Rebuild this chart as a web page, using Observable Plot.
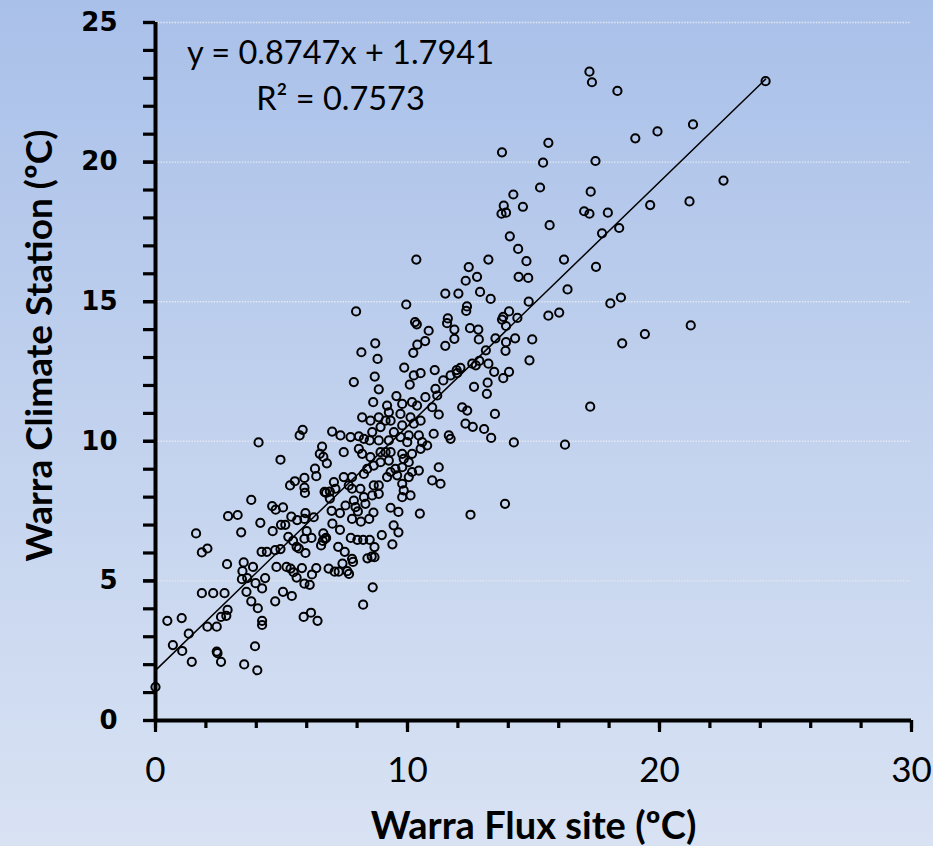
<!DOCTYPE html>
<html>
<head>
<meta charset="utf-8">
<script src="https://cdn.jsdelivr.net/npm/d3@7"></script>
<script src="https://cdn.jsdelivr.net/npm/@observablehq/plot@0.6"></script>
<style>
  html, body { margin: 0; padding: 0; }
  body {
    width: 933px; height: 846px; overflow: hidden;
    background: linear-gradient(to bottom, #a9c0e9 0%, #c2d2ee 50%, #d8e2f3 100%);
  }
  #chart svg { display: block; }
</style>
</head>
<body>
<div id="chart"></div>
<script>
// Daily mean air temperature (°C): Warra Flux site (x) vs Warra Climate Station (y)
const fluxSite = [
  17.22,17.32,18.33,24.21,21.33,19.92,19.04,15.59,13.75,15.38,
  17.46,22.54,15.26,17.27,14.20,13.82,14.58,13.73,13.91,19.63,
  17.01,17.22,17.95,21.19,15.64,18.40,17.72,14.06,14.39,17.48,
  10.35,14.72,16.21,13.21,12.43,14.41,14.79,12.76,12.31,16.35,
  12.88,11.50,12.02,13.30,14.81,18.47,18.05,9.95,12.36,12.33,
  7.96,14.03,16.02,15.59,13.80,11.60,11.57,14.36,10.30,10.37,
  13.75,13.91,12.48,12.81,11.86,21.24,19.42,10.84,8.72,10.70,
  10.39,11.86,11.50,13.49,13.91,14.27,14.95,18.52,12.83,13.89,
  8.17,10.23,13.11,8.81,14.84,12.57,12.71,13.21,12.85,12.10,
  11.95,9.87,11.08,14.03,13.44,13.80,13.18,12.64,13.15,13.47,
  12.59,13.04,13.32,5.84,5.72,14.22,16.25,4.09,6.61,6.66,
  6.52,6.80,6.33,4.96,6.38,5.91,5.53,5.34,5.91,5.93,
  6.71,6.77,6.92,8.03,8.65,9.64,6.99,6.92,3.80,4.63,
  4.77,5.06,6.28,5.95,5.91,5.62,5.39,4.98,5.15,4.16,
  2.88,3.26,10.49,12.50,13.87,7.32,7.80,8.15,8.48,7.02,
  7.32,6.66,6.73,6.64,6.77,6.57,6.00,6.19,5.91,5.27,
  5.46,5.60,5.69,5.95,4.65,3.40,1.61,7.75,8.01,8.24,
  8.50,8.98,9.64,9.45,9.40,7.25,7.51,7.80,8.41,8.58,
  8.69,4.21,4.42,4.75,4.96,1.84,2.06,2.84,3.50,3.87,
  3.45,3.43,3.64,4.35,4.80,5.20,5.36,5.48,5.60,5.81,
  6.38,6.21,6.87,7.11,7.27,7.42,7.61,7.68,7.84,5.91,
  6.12,3.97,4.23,3.61,1.84,2.29,2.74,5.06,5.41,4.75,
  3.80,4.06,2.86,2.81,2.60,8.62,8.24,4.23,4.23,6.17,
  5.88,6.43,0.47,1.04,1.32,2.06,2.43,0.69,1.06,1.44,
  2.43,2.46,2.60,3.52,3.95,4.04,0.00,8.69,17.25,
  7.87,8.70,8.86,8.64,9.56,9.19,9.79,10.18,10.25,10.52,
  10.09,10.71,11.11,11.18,11.42,11.71,11.97,12.17,12.30,12.37,
  11.24,10.98,10.38,8.20,8.53,8.86,9.26,9.13,9.33,9.72,
  10.12,10.52,10.25,9.79,9.46,8.93,8.60,8.27,7.74,8.07,
  7.34,7.01,8.50,8.86,9.26,9.72,10.05,9.99,10.45,10.58,
  10.78,10.52,11.04,11.64,11.71,7.47,8.07,8.20,8.53,8.93,
  9.13,9.33,9.79,10.18,9.85,9.26,8.93,8.66,8.40,9.52,
  9.79,10.05,10.45,10.18,11.24,10.98,11.31,9.33,9.19,9.59,
  7.47,7.80,8.27,8.66,8.86,9.79,10.05,9.85,10.12,9.79,
  9.33,7.08,7.14,7.67,7.80,8.13,8.86,8.60,8.27,7.87,
  7.54,7.94,8.33
];
const climateStation = [
  23.24,22.86,22.55,22.90,21.35,21.10,20.85,20.69,20.35,19.98,
  20.04,19.34,19.09,18.94,18.84,18.44,18.40,18.15,18.19,18.46,
  18.24,18.15,18.19,18.59,17.74,17.64,17.45,17.34,16.89,16.25,
  16.51,16.45,16.51,16.51,16.24,15.89,15.85,15.89,15.75,15.44,
  15.35,15.29,15.29,15.10,15.00,15.15,14.94,14.90,14.83,14.67,
  14.65,14.65,14.61,14.50,14.46,14.40,14.23,14.42,14.27,14.19,
  14.36,14.13,14.05,14.00,14.00,14.15,13.84,13.96,13.51,13.59,
  13.46,13.67,13.42,13.69,13.55,13.69,13.65,13.51,13.65,13.24,
  13.19,13.17,13.26,12.95,12.90,12.78,12.72,12.78,12.88,12.63,
  12.55,12.64,12.55,12.49,12.49,12.26,12.10,11.95,11.70,10.98,
  10.52,10.44,10.12,10.41,10.21,9.96,9.88,9.96,9.81,9.44,
  9.55,9.21,9.02,9.34,8.75,8.69,8.57,8.42,8.34,8.15,
  8.19,8.15,8.20,7.49,7.45,7.47,7.51,7.95,7.90,7.68,
  7.55,7.63,7.28,7.43,7.22,7.18,7.30,7.01,7.01,7.08,
  7.32,7.36,7.41,7.37,7.76,7.43,7.22,7.12,7.22,7.05,
  6.83,6.70,6.51,6.43,6.54,6.27,6.78,6.54,6.51,6.58,
  6.43,6.22,6.16,6.00,6.78,6.74,6.70,6.54,6.47,6.47,
  6.47,6.64,6.74,6.99,6.31,6.22,6.04,5.79,5.81,5.87,
  5.85,6.04,6.04,6.10,6.14,6.02,6.16,5.60,5.66,5.50,
  5.35,5.06,5.10,5.10,5.50,5.50,5.44,5.31,5.12,5.46,
  5.46,5.23,5.44,5.33,5.33,5.62,5.35,5.25,5.68,4.90,
  4.86,4.92,4.73,4.61,4.56,4.56,4.56,4.61,4.46,4.27,
  4.27,4.02,3.96,3.75,3.71,4.77,4.15,3.57,3.42,3.86,
  3.71,3.57,3.57,3.67,3.11,3.36,3.36,2.70,2.49,2.10,
  2.47,2.41,2.10,2.01,2.66,1.80,1.20,6.21,11.24,
  12.12,12.32,11.86,11.40,11.62,11.28,11.34,11.40,12.36,12.44,
  12.03,11.58,11.88,11.64,12.18,12.36,12.44,11.22,10.63,11.10,
  10.96,11.22,11.28,10.86,10.74,10.86,11.04,10.74,10.74,10.98,
  10.86,10.74,10.63,10.57,10.33,10.51,10.33,10.09,10.15,10.18,
  10.21,10.35,10.03,10.03,10.03,10.15,10.21,9.97,10.21,9.97,
  9.85,9.73,10.27,10.21,10.09,9.61,9.73,9.55,9.43,9.61,
  9.61,9.61,9.55,9.55,9.37,9.31,9.25,9.13,9.01,9.01,
  9.07,9.25,8.95,8.90,9.07,8.60,8.48,8.90,8.72,8.78,
  8.72,8.72,8.83,8.42,8.42,8.48,8.72,8.24,8.06,8.00,
  7.62,8.54,8.30,8.42,8.30,8.30,8.12,8.06,8.00,7.88,
  7.70,7.64,7.76
];

// Linear fit as reported for the two sites
const trendSlope = 0.8747;
const trendIntercept = 1.7941;
const rSquared = 0.7573;

// Axis ticks
const xMajorTicks = [0, 10, 20, 30];
const xMinorTicks = d3.range(0, 31, 2);
const yMajorTicks = [0, 5, 10, 15, 20, 25];
const yMinorTicks = d3.range(0, 26, 1);

const xTitle = "Warra Flux site (ºC)";
const yTitle = "Warra Climate Station (ºC)";

const observations = fluxSite.map((x, i) => ({flux: x, station: climateStation[i]}));
const [xMin, xMax] = d3.extent(fluxSite);
const trend = [xMin, xMax].map(x => ({flux: x, station: trendSlope * x + trendIntercept}));

const equationText = `y = ${trendSlope}x + ${trendIntercept}`;
const r2Text = `R² = ${rSquared}`;

const sans = "Lato, 'Open Sans', sans-serif";

const chart = Plot.plot({
  width: 933,
  height: 846,
  marginLeft: 155,
  marginRight: 22,
  marginTop: 22,
  marginBottom: 126,
  style: {background: "transparent", overflow: "visible"},
  x: {domain: [0, 30]},
  y: {domain: [0, 25]},
  marks: [
    // dotted horizontal gridlines
    Plot.ruleY(yMajorTicks.filter(v => v > 0), {
      stroke: "#e6e9ef", strokeWidth: 1.4, strokeDasharray: "1.4 1.4"
    }),
    // y axis: minor ticks then labelled majors
    Plot.axisY(yMinorTicks, {
      tickSize: 12, tickFormat: () => "", strokeWidth: 3.2, stroke: "black", label: null
    }),
    Plot.axisY(yMajorTicks, {
      tickSize: 12, tickPadding: 26, strokeWidth: 3.2, stroke: "black", label: null,
      fontSize: 26, fontWeight: "bold", fontFamily: "'DejaVu Sans', Verdana, sans-serif",
      color: "black"
    }),
    // x axis: minor ticks then labelled majors
    Plot.axisX(xMinorTicks, {
      tickSize: 8, tickFormat: () => "", strokeWidth: 3.2, stroke: "black", label: null
    }),
    Plot.axisX(xMajorTicks, {
      tickSize: 12, tickPadding: 25, strokeWidth: 3.2, stroke: "black", label: null,
      fontSize: 35, fontFamily: sans, color: "black"
    }),
    // axis lines
    Plot.ruleX([0], {stroke: "black", strokeWidth: 4}),
    Plot.ruleY([0], {stroke: "black", strokeWidth: 4}),
    // fitted line
    Plot.line(trend, {x: "flux", y: "station", stroke: "black", strokeWidth: 1.5}),
    // observations
    Plot.dot(observations, {
      x: "flux", y: "station", r: 4.1, fill: "none", stroke: "black", strokeWidth: 2
    }),
    // regression annotation
    Plot.text([equationText], {
      text: d => d, frameAnchor: "top-left", dx: 185, dy: 31,
      textAnchor: "middle", lineAnchor: "middle",
      fontSize: 32.5, fontFamily: sans, fill: "black"
    }),
    Plot.text([r2Text], {
      text: d => d, frameAnchor: "top-left", dx: 185, dy: 77,
      textAnchor: "middle", lineAnchor: "middle",
      fontSize: 32.5, fontFamily: sans, fill: "black"
    }),
    // axis titles
    Plot.text([xTitle], {
      text: d => d, frameAnchor: "bottom", dy: 106,
      textAnchor: "middle", lineAnchor: "middle",
      fontSize: 38, fontWeight: "bold", fontFamily: sans, fill: "black"
    }),
    Plot.text([yTitle], {
      text: d => d, frameAnchor: "left", dx: -115, dy: -26, rotate: -90,
      textAnchor: "middle", lineAnchor: "middle",
      fontSize: 37, fontWeight: "bold", fontFamily: sans, fill: "black"
    })
  ]
});

document.getElementById("chart").append(chart);
</script>
</body>
</html>
